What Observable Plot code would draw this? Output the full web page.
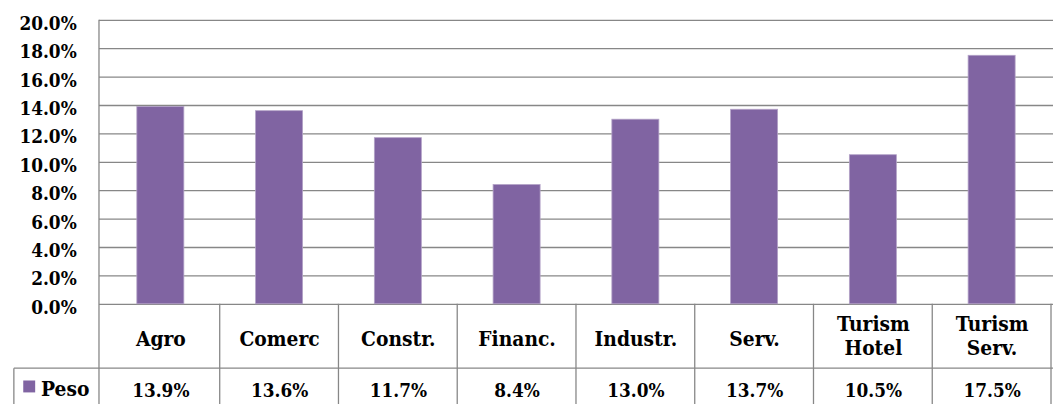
<!DOCTYPE html>
<html><head><meta charset="utf-8">
<script src="https://cdn.jsdelivr.net/npm/d3@7"></script>
<script src="https://cdn.jsdelivr.net/npm/@observablehq/plot@0.6"></script>
<style>
html,body{margin:0;padding:0;background:#fff;overflow:hidden;}
#chart svg{display:block;}
</style></head><body><div id="chart"></div>
<script>
const categories = ["Agro", "Comerc", "Constr.", "Financ.", "Industr.", "Serv.", "Turism\nHotel", "Turism\nServ."];
const pesoValues = [0.139, 0.136, 0.117, 0.084, 0.130, 0.137, 0.105, 0.175];
const seriesName = "Peso";
const yTicks = [0, 0.02, 0.04, 0.06, 0.08, 0.10, 0.12, 0.14, 0.16, 0.18, 0.20];

const FONT = '"DejaVu Serif Condensed", "DejaVu Serif", serif';
const FS_NUM = 19, FS_TXT = 21;
const W = 1064, H = 410, ML = 100, MR = 0, MT = 20, MB = 103;
const barColor = "#8064A2", lineColor = "#878787";
const fmt = d3.format(".1%");
const data = categories.map((c, i) => ({cat: c, value: pesoValues[i]}));
const step = (W - ML - MR) / categories.length;
const inset = (step - 48) / 2;

function tableGrid(index, scales, values, dims) {
  const x = scales.x;
  const bw = typeof x.bandwidth === "function" ? x.bandwidth() : (x.bandwidth ?? step);
  const y0 = dims.height - dims.marginBottom;
  const rowY = y0 + 65;
  const g = d3.create("svg:g").attr("stroke", lineColor).attr("stroke-width", 1.3).attr("fill", "none");
  g.append("line").attr("x1", dims.marginLeft).attr("x2", dims.marginLeft)
    .attr("y1", dims.marginTop).attr("y2", dims.height);
  for (const c of categories) {
    const xe = x(c) + bw;
    g.append("line").attr("x1", xe).attr("x2", xe).attr("y1", y0).attr("y2", dims.height);
  }
  g.append("line").attr("x1", 14).attr("x2", dims.width).attr("y1", rowY).attr("y2", rowY);
  g.append("line").attr("x1", 14).attr("x2", 14).attr("y1", rowY).attr("y2", dims.height);
  return g.node();
}

const txt = {fontWeight: "bold", fill: "#000"};
const chart = Plot.plot({
  width: W, height: H,
  marginLeft: ML, marginRight: MR, marginTop: MT, marginBottom: MB,
  style: {fontFamily: FONT, fontSize: FS_NUM + "px", fontWeight: "bold", color: "#000", background: "#fff"},
  x: {domain: categories, padding: 0, axis: null},
  y: {domain: [0, 0.2], axis: null},
  marks: [
    Plot.gridY(yTicks, {stroke: lineColor, strokeOpacity: 1, strokeWidth: 1.3}),
    Plot.barY(data, {x: "cat", y: "value", fill: barColor, stroke: "#b3a2c7", strokeWidth: 0.8, insetLeft: inset, insetRight: inset}),
    Plot.axisY(yTicks, {tickFormat: fmt, tickSize: 0, tickPadding: 23, dy: 3.5, label: null, fontSize: FS_NUM, ...txt}),
    tableGrid,
    Plot.text(data.filter(d => !d.cat.includes("\n")), {x: "cat", text: "cat", frameAnchor: "bottom", dy: 35, lineAnchor: "middle", fontSize: FS_TXT, ...txt}),
    Plot.text(data.filter(d => d.cat.includes("\n")), {x: "cat", text: "cat", frameAnchor: "bottom", dy: 31, lineAnchor: "middle", lineHeight: 1.15, fontSize: FS_TXT, ...txt}),
    Plot.text(data, {x: "cat", text: d => fmt(d.value), frameAnchor: "bottom", dy: 88, lineAnchor: "middle", fontSize: FS_NUM, ...txt}),
    Plot.dot([seriesName], {frameAnchor: "bottom-left", dx: -71, dy: 83, symbol: "square", r: 6.8, fill: barColor, stroke: null}),
    Plot.text([seriesName], {text: d => d, frameAnchor: "bottom-left", dx: -59, dy: 86, textAnchor: "start", lineAnchor: "middle", fontSize: FS_TXT, ...txt})
  ]
});
document.getElementById("chart").appendChild(chart);
</script></body></html>
